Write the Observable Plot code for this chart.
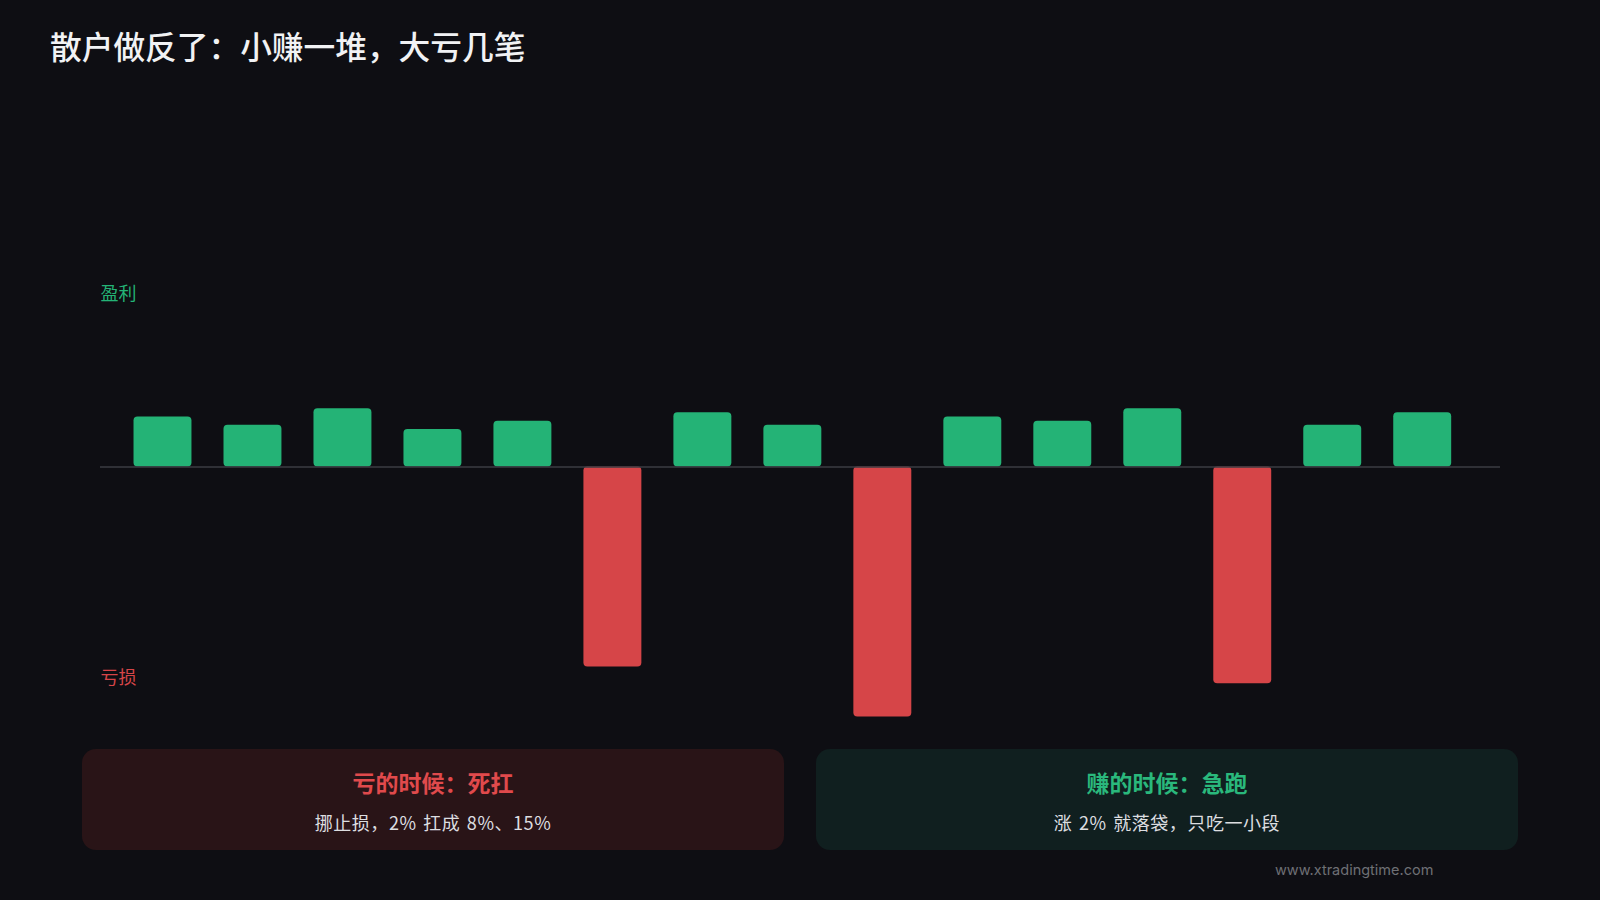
<!DOCTYPE html>
<html lang="zh-CN">
<head>
<meta charset="utf-8">
<script src="https://cdn.jsdelivr.net/npm/d3@7"></script>
<script src="https://cdn.jsdelivr.net/npm/@observablehq/plot@0.6"></script>
<style>
  html, body { margin: 0; padding: 0; background: #0e0e13; }
  body { width: 1600px; height: 900px; overflow: hidden; position: relative; font-family: "Noto Sans CJK SC", "Noto Sans", sans-serif; }
  #title { position: absolute; left: 50px; top: 22px; font-size: 31.7px; line-height: 46px; font-weight: 500; color: #f1f2f4; margin: 0; }
  #chart { position: absolute; left: 0; top: 90px; }
  #chart svg { display: block; background: transparent; }
  .card { position: absolute; top: 749px; width: 702px; height: 101px; border-radius: 14px; text-align: center; }
  .card .h { position: absolute; left: 0; right: 0; top: 16px; font-size: 23px; line-height: 34px; font-weight: 700; }
  .card .s { position: absolute; left: 0; right: 0; top: 58px; font-size: 18px; line-height: 30px; color: #dddee0; letter-spacing: 0.55px; word-spacing: 2px; }
  #c1 { left: 82px; background: #291417; }
  #c1 .h { color: #e04a4c; }
  #c2 { left: 816px; background: #101f1f; }
  #c2 .h { color: #2ab87c; }
  #foot { position: absolute; left: 1275px; top: 860px; font-size: 14.5px; line-height: 20px; color: #6e7075; font-family: "Inter", "Noto Sans", sans-serif; }
</style>
</head>
<body>
<h1 id="title"></h1>
<div id="chart"></div>
<div class="card" id="c1"><div class="h"></div><div class="s"></div></div>
<div class="card" id="c2"><div class="h"></div><div class="s"></div></div>
<div id="foot"></div>
<script>
const colon = "\uFF1A", comma = "\uFF0C";
const titleText = "散户做反了" + colon + "小赚一堆" + comma + "大亏几笔";
const trades = [1,2,3,4,5,6,7,8,9,10,11,12,13,14,15];
const values = [12,10,14,9,11,-48,13,10,-60,12,11,14,-52,10,13];
const sideNames = ["盈利","亏损"];
const sideColors = ["#24b376","#d64548"];
const sideLabelY = [41.5,-50.7];
const cardHeads = ["亏的时候" + colon + "死扛","赚的时候" + colon + "急跑"];
const cardSubs = ["挪止损" + comma + "2% 扛成 8%、15%","涨 2% 就落袋" + comma + "只吃一小段"];
const footText = "www.xtradingtime.com";

document.getElementById("title").textContent = titleText;
document.querySelector("#c1 .h").textContent = cardHeads[0];
document.querySelector("#c1 .s").textContent = cardSubs[0];
document.querySelector("#c2 .h").textContent = cardHeads[1];
document.querySelector("#c2 .s").textContent = cardSubs[1];
document.getElementById("foot").textContent = footText;

const rows = trades.map((t,i)=>({t, v: values[i], side: values[i] >= 0 ? sideNames[0] : sideNames[1]}));
const labels = sideNames.map((s,i)=>({s, y: sideLabelY[i]}));

const plot = Plot.plot({
  width: 1600,
  height: 640,
  marginLeft: 100,
  marginRight: 100,
  marginTop: 0,
  marginBottom: 0,
  style: {background: "transparent", fontFamily: '"Noto Sans CJK SC", sans-serif'},
  x: {domain: trades, range: [117.5,1467.2], round: false, paddingInner: 0.356, paddingOuter: 0.178, axis: null},
  y: {domain: [-60,60], range: [626.5,126.5], axis: null},
  color: {domain: sideNames, range: sideColors},
  marks: [
    Plot.barY(rows, {x: "t", y1: 0, y2: "v", fill: "side", rx: 4}),
    Plot.ruleY([0], {stroke: "#3b3d43", strokeWidth: 1.5}),
    Plot.text(labels, {frameAnchor: "left", y: "y", text: "s", fill: "s", fontSize: 18, textAnchor: "start"})
  ]
});
document.getElementById("chart").appendChild(plot);
</script>
</body>
</html>
